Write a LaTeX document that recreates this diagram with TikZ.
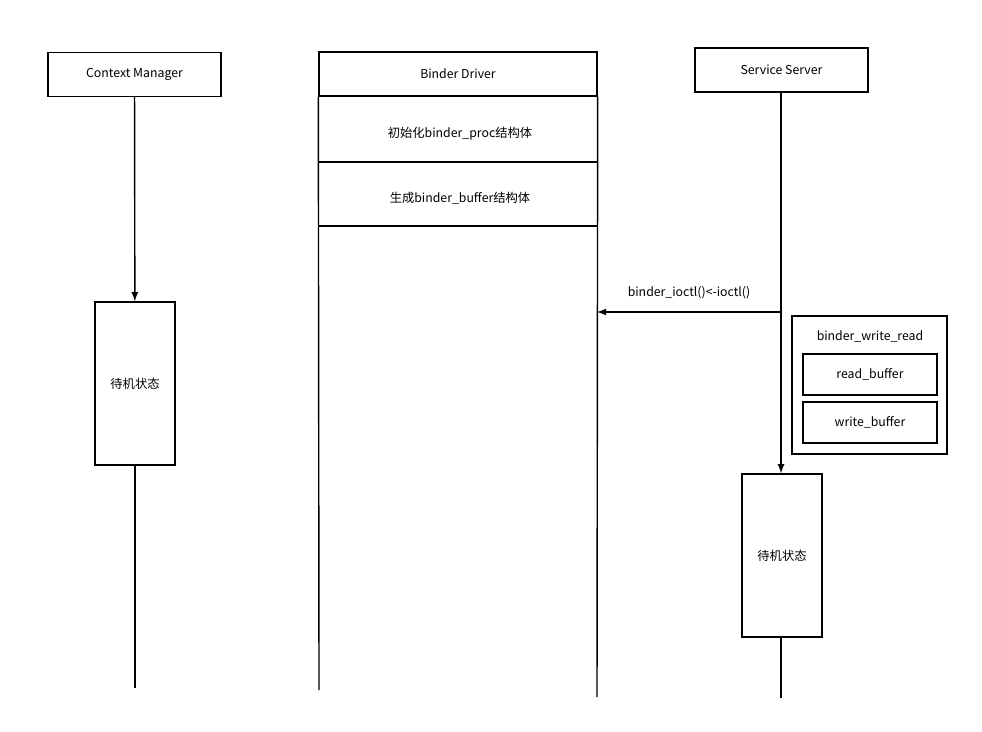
\documentclass[tikz,border=0pt]{standalone}
\usepackage{fontspec}
\setmainfont{Noto Sans CJK SC}
\usetikzlibrary{arrows,positioning}

\begin{document}
\begin{tikzpicture}[x=0.02cm,y=-0.02cm,line width=0.8pt,
  font=\fontsize{7}{8}\selectfont,
  box/.style={draw,minimum width=#1*0.02cm},
  ]
\useasboundingbox (0,0) rectangle (982,732);
% heads
\node[draw,minimum width=3.46cm,minimum height=0.88cm] (cm) at (134.5,74.5) {Context Manager};
\node[draw,minimum width=5.56cm,minimum height=0.88cm] (bd) at (458,74) {Binder Driver};
\node[draw,minimum width=3.46cm,minimum height=0.88cm] (ss) at (781.5,70) {Service Server};
% waiting boxes
\node[draw,minimum width=1.6cm,minimum height=3.26cm] (w1) at (135,383.5) {待机状态};
\node[draw,minimum width=1.6cm,minimum height=3.26cm] (w2) at (782,555.5) {待机状态};
\coordinate (e1) at (135,688);
\coordinate (e2) at (781,698);
\draw[-latex] (cm) -- (w1);
\draw (w1) -- (e1);
\draw[-latex] (ss.south -| e2) -- (w2.north -| e2);
\draw (w2.south -| e2) -- (e2);
% binder driver lifelines
\coordinate (dl) at (319,690);
\coordinate (dr) at (597,697);
\draw (bd.south west) -- (dl);
\draw (bd.south east) -- (dr);
\draw (319,162) -- (597,162);
\draw (319,226) -- (597,226);
\node (init) at (460,134) {初始化binder\_proc结构体};
\node (gen) at (460,198) {生成binder\_buffer结构体};
% ioctl
\coordinate (ca) at (781,312);
\coordinate (cb) at (597,312);
\draw[-latex] (ca) -- node[above=4pt] {binder\_ioctl()<-ioctl()} (cb);
% binder_write_read
\draw (792,316) rectangle (947,454);
\node (bwr) at (870,336) {binder\_write\_read};
\node[draw,minimum width=2.68cm,minimum height=0.82cm] (rb) at (870,374.5) {read\_buffer};
\node[draw,minimum width=2.68cm,minimum height=0.82cm] (wb) at (870,422.5) {write\_buffer};
\end{tikzpicture}
\end{document}
